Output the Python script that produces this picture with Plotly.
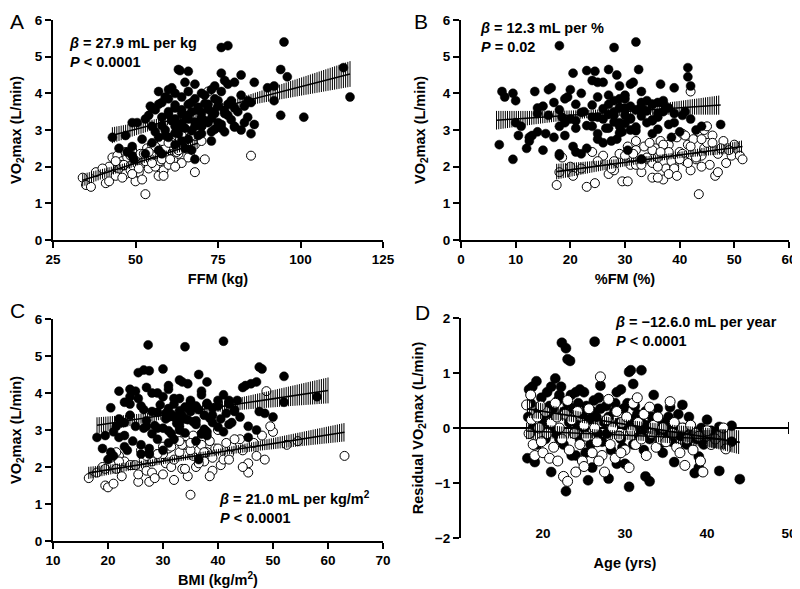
import numpy as np
import plotly.graph_objects as go

# ---------------- DATA ----------------
# Men (filled circles): VO2max (L/min), fat-free mass (kg), % fat mass, BMI (kg/m2)
men_vo2 = [5.40, 5.30, 5.25, 4.70, 4.65, 4.65, 4.62, 4.60, 4.55, 4.45, 4.50, 4.35, 4.30, 4.30, 4.25, 4.20, 4.15, 4.15, 4.10, 4.10,
           4.05, 4.05, 4.00, 4.00, 3.90, 3.90, 3.85, 3.80, 3.80, 3.75, 3.75, 3.70, 3.70, 3.65, 3.60, 3.60, 3.55, 3.50, 3.50, 3.45,
           3.45, 3.40, 3.40, 3.35, 3.35, 3.30, 3.30, 3.25, 3.20, 3.20, 3.20, 3.15, 3.10, 3.10, 3.05, 3.05, 3.00, 3.00, 2.95, 2.90,
           2.90, 2.85, 2.85, 2.80, 2.80, 2.80, 2.75, 2.70, 2.70, 2.65, 2.60, 2.55, 2.50, 2.50, 2.45, 2.45, 2.40, 2.35, 2.35, 2.30,
           2.20, 2.20, 3.95, 3.90, 3.85, 3.80, 3.75, 3.72, 3.70, 3.68, 3.65, 3.62, 3.60, 3.58, 3.55, 3.52, 3.50, 3.48, 3.45, 3.42,
           3.40, 3.38, 3.35, 3.32, 3.30, 3.28, 3.25, 3.22, 3.20, 3.18, 3.15, 3.12, 3.10, 3.08, 3.05, 3.02, 2.98, 2.95, 2.92, 2.90,
           3.85, 3.70, 3.55, 3.40, 3.30, 3.10, 4.05, 4.20, 4.25, 4.30, 3.95, 3.80, 3.65, 3.50, 3.35, 3.20, 3.10, 2.95, 2.85, 2.75]
men_ffm = [95, 78, 76, 113, 94, 63, 63.5, 66, 76, 96, 82, 77, 86, 80, 78, 92, 61, 90, 60, 73,
           57, 66, 70, 62, 115, 59, 68, 92, 75, 85, 58, 66, 72, 54.5, 62, 55, 69, 73, 60, 64,
           77, 94, 66, 101, 58, 70, 62, 71, 49, 50.5, 75, 86, 68, 80, 65, 76, 82, 59, 73, 85,
           63, 47, 69, 43, 60, 57, 52, 64, 73, 55, 62, 49, 45, 65, 57, 67, 47.5, 58, 53, 49,
           68, 49.5, 71, 64, 74, 79, 67, 71, 78, 62, 75, 69, 80, 72, 64, 77, 67, 70, 74, 60,
           78, 65, 70, 73, 66, 79, 61, 68, 72, 64, 76, 58, 70, 80, 63, 74, 67, 77, 62, 70,
           60, 57, 56, 54, 53, 55, 76, 74, 68, 65, 82, 84, 83, 81, 84, 83, 62, 56, 59, 66]
men_fm = [32, 18, 28, 41.5, 32.5, 27, 23, 24.5, 20.5, 41.5, 28.5, 24, 25, 31.5, 36.5, 42, 16.5, 39, 20, 16,
          7.5, 13.5, 9.5, 22, 19.5, 8, 29, 10, 34, 36, 17, 35, 27, 15, 30, 14, 33, 37, 22.5, 14,
          39, 40.5, 28, 18.5, 25, 42, 31, 35, 10, 19, 29, 47.5, 11, 44, 21, 26.5, 43, 31, 29.5, 15.5,
          25, 10.5, 13, 12.5, 38.5, 17, 28.5, 12.5, 27.5, 26, 7, 20.5, 12, 23, 15, 30.5, 21, 18, 22, 18,
          33, 9.5, 27, 25, 30, 28, 33, 37, 35, 24, 31, 29, 38, 26, 32, 34, 28, 22, 36, 27,
          30, 33, 24, 31, 26, 35, 21, 28, 34, 30, 38, 23, 29, 32, 27, 36, 32, 40, 29, 35,
          19, 21, 18, 16, 20, 24, 33, 29, 31, 26, 30, 37, 33, 41, 36, 39, 18, 14, 19, 25]
men_bmi = [41, 27.3, 34, 47.5, 48, 30, 26.5, 27.5, 25.5, 52, 36.5, 33, 38, 47, 46, 45, 27, 44.5, 24, 31,
           22, 25, 28, 29, 58, 24, 32, 42, 40, 52, 23, 38, 32, 26, 35, 20.5, 43, 47.5, 28, 30.5,
           48.5, 39, 33, 50, 31, 40.5, 34, 36, 22.5, 23, 33, 42, 21.5, 45.5, 29, 30, 47, 33, 41, 37,
           28, 19.5, 38, 18, 45.5, 22, 32, 24.5, 36, 31, 26, 23, 19, 27.5, 23.5, 30, 20.5, 27.5, 26, 21,
           36.5, 20, 37, 30, 33, 35, 35, 38, 42, 29.5, 36, 34, 39, 31, 36.5, 33, 35, 29, 41.5, 31.5,
           37.5, 33.5, 32, 38.5, 30.5, 34.5, 27, 35.5, 39, 32.5, 36, 28.5, 33, 40, 26.5, 37.5, 31, 38, 34, 31.5,
           25.5, 24, 26.5, 24, 22, 27, 37, 31, 34.5, 33.5, 41, 43.5, 40, 43, 44, 42.5, 25, 21, 23, 29]
men_age = [18.3, 18.7, 19.2, 18.5, 18.2, 18.4, 18.1, 18.8, 19.0, 19.5, 19.8, 20.0, 20.3, 20.5, 20.8, 21.0, 21.0, 21.3, 21.5, 21.6,
           21.8, 22.0, 22.2, 22.3, 22.5, 22.6, 22.8, 22.8, 23.0, 23.3, 23.0, 23.2, 23.5, 23.7, 24.0, 24.0, 24.2, 24.5, 24.5, 24.8,
           25.0, 25.0, 25.3, 25.5, 25.6, 25.8, 26.0, 26.2, 26.3, 26.5, 26.7, 27.0, 27.0, 27.2, 27.5, 27.7, 28.0, 28.0, 28.3, 28.5,
           28.7, 29.0, 29.0, 29.3, 29.5, 29.5, 29.8, 30.0, 30.0, 30.3, 30.5, 30.5, 30.7, 30.8, 31.0, 31.0, 31.3, 31.5, 31.8, 32.0,
           32.0, 32.3, 32.5, 32.5, 32.8, 33.0, 33.0, 33.3, 33.5, 33.7, 34.0, 34.2, 34.5, 34.8, 35.0, 35.3, 35.5, 35.7, 36.0, 36.2,
           36.5, 36.8, 37.0, 37.2, 37.5, 38.0, 38.3, 38.5, 38.8, 39.0, 39.0, 39.3, 39.6, 40.0, 40.5, 41.5, 41.5, 43.0, 43.0, 44.0,
           19.3, 20.2, 20.7, 21.2, 22.0, 23.4, 24.3, 25.2, 26.0, 26.8, 27.8, 28.8, 29.7, 30.2, 31.2, 32.2, 33.8, 34.6, 35.5, 37.8]
men_resid = [0.70, 0.75, 0.85, 0.45, 0.20, -0.10, -0.55, 0.00, -0.62, 0.30, 0.55, 0.10, -0.20, 0.65, 0.40, 0.75, -0.80, 0.20, 0.90, -0.10,
             0.50, 0.60, 0.75, 1.55, -0.30, 0.30, 1.45, -1.15, 1.25, 1.22, 0.45, 0.10, -0.50, 0.35, 0.65, -0.50, 0.05, 0.70, -0.20, 0.25,
             0.65, 0.00, 0.40, -0.95, 0.15, -0.30, -0.72, 0.50, 1.57, 0.20, -0.10, 0.77, 0.35, -0.25, 0.10, 0.40, -0.92, 0.20, -0.40, 0.00,
             0.30, 0.65, -0.65, 0.10, 0.70, -0.20, 0.35, -0.65, 0.05, 0.45, 1.02, -1.07, 1.05, 0.15, 0.80, -0.30, 0.00, 0.25, -0.15, 1.05,
             0.10, -0.40, -0.88, 0.30, 0.05, -0.97, -0.20, 0.20, 0.60, -0.05, 0.35, -0.30, 0.10, 0.00, -0.10, 0.20, 0.38, -0.25, -0.62, 0.05,
             0.25, -0.15, 0.42, 0.00, -0.30, 0.05, -0.10, -0.82, -0.20, -0.72, -0.52, 0.00, -0.30, 0.15, -0.05, 0.02, -0.78, 0.04, -0.25, -0.93,
             -0.30, 0.25, -0.05, 0.35, -0.20, 0.60, 0.45, -0.45, 0.30, 0.55, -0.10, 0.45, -0.35, 0.20, 0.40, -0.10, 0.10, -0.45, 0.10, 0.20]

# Women (open circles)
wom_vo2 = [1.70, 1.50, 1.45, 1.85, 1.55, 1.60, 2.00, 2.25, 1.75, 2.30, 1.95, 2.15, 1.80, 2.40, 2.05, 1.90, 2.45, 1.60, 2.20, 1.85,
           2.35, 1.65, 2.10, 1.25, 2.50, 1.95, 2.25, 2.60, 2.00, 2.40, 1.75, 2.15, 2.55, 1.90, 2.30, 2.70, 2.05, 2.45, 2.80, 2.20,
           2.60, 2.35, 2.75, 2.10, 2.50, 2.90, 2.65, 2.30, 2.85, 2.60, 1.85, 2.95, 2.70, 2.30, 2.20, 2.00, 2.25, 2.15, 2.05, 2.35,
           2.45, 2.55, 2.40, 2.20, 2.30, 1.95, 2.10, 2.60, 2.75, 2.65, 2.50, 2.45, 2.05, 1.80, 1.70, 2.25, 2.85, 3.00, 3.10, 4.05,
           2.15, 2.35, 1.95, 2.55, 2.70, 2.40, 2.20, 2.00, 1.75, 2.65]
wom_ffm = [34, 35, 36.5, 38, 41, 42, 42, 43, 44, 44.5, 45, 46, 47, 47, 48, 48.5, 49, 50, 50, 51,
           51.5, 52, 52, 53, 53.5, 54, 54.5, 55, 56, 56.5, 57, 57.5, 58, 58.5, 59, 59.5, 60, 60.5, 61, 61.5,
           62, 63, 63.5, 64, 64.5, 65, 66, 66.5, 67, 68, 68, 69, 70, 85, 71, 49.5, 47.5, 53, 45.5, 55.5,
           57, 60, 62.5, 58, 48.5, 51, 55, 57.5, 65.5, 61, 59, 63, 46.5, 49, 46, 66, 64, 68.5, 70, 72,
           44, 52.5, 40, 56, 58, 54, 60.5, 62, 58.5, 60]
wom_fm = [35, 17.5, 23, 18, 24.5, 29.5, 20, 18.5, 20.5, 26, 22, 25, 27, 24, 31, 28, 32, 30.5, 34, 33,
          29, 37, 35, 43.5, 35.5, 37.5, 36, 38, 39, 40, 46.5, 41, 33.5, 42, 44, 36.5, 45.5, 37, 39.5, 43,
          41.5, 47, 42.5, 48.5, 44.5, 40.5, 45, 49.5, 46, 50, 47, 43.5, 48, 51, 51.5, 36, 34, 38.5, 32, 40.5,
          35, 42, 38, 33, 30, 39, 41.5, 37, 44, 46, 47.5, 49, 33, 38, 36, 43, 41, 44.5, 45, 42,
          28, 31.5, 27.5, 30.5, 32, 36.5, 40, 44, 39.5, 34.5]
wom_bmi = [16.5, 19.5, 20, 18, 21, 25.5, 19, 20.5, 22.5, 22, 19.5, 23, 25.5, 21.5, 24.5, 27, 26, 27.5, 26.5, 28,
           29, 32, 30.5, 35, 31, 33.5, 28.5, 34, 36, 33, 34.5, 37.5, 30, 39, 35.5, 38.5, 40.5, 36.5, 32.5, 41,
           37, 42, 44, 45.5, 39.5, 37, 46.5, 47, 48, 52.5, 45.5, 50, 54.5, 63, 48.5, 31.5, 29.5, 28, 24, 30,
           35, 42.5, 38, 32, 27, 34, 36.5, 33.5, 43, 41.5, 40, 44.5, 25, 30, 28.5, 39, 35.5, 40, 49.5, 48.8,
           22, 29, 21.5, 31.5, 33, 37.5, 42, 44.5, 38.5, 35]
wom_age = [18.0, 18.3, 18.5, 18.6, 18.8, 19.0, 19.3, 19.5, 19.8, 20.0, 20.3, 20.5, 20.8, 21.0, 21.3, 21.5, 21.8, 22.0, 22.3, 22.5,
           22.7, 23.0, 23.2, 23.5, 23.8, 24.0, 24.2, 24.5, 24.8, 25.0, 25.3, 25.6, 26.0, 26.3, 26.6, 27.0, 27.2, 27.5, 27.8, 28.0,
           28.2, 28.5, 28.8, 29.0, 29.3, 29.6, 30.0, 30.2, 30.5, 30.8, 31.0, 31.3, 31.6, 32.0, 32.3, 32.6, 33.0, 33.2, 33.5, 33.8,
           34.0, 34.3, 34.6, 35.0, 35.5, 35.8, 36.0, 36.3, 36.7, 37.0, 37.3, 37.6, 38.0, 38.3, 38.6, 39.0, 39.5, 39.2, 40.0, 40.5,
           41.0, 42.3, 42.0, 19.7, 21.7, 23.0, 25.0, 26.8, 29.5, 31.5]
wom_resid = [0.42, -0.10, 0.60, 0.15, -0.30, -0.50, 0.20, 0.00, -0.25, -0.45, 0.30, -0.10, -0.55, 0.10, -0.35, 0.45, -0.60, 0.00, -0.20, -0.88,
             0.25, -0.97, -0.40, 0.15, -0.10, -0.80, 0.30, -0.30, -0.60, 0.05, -0.15, 0.35, -0.45, 0.00, -0.25, 0.93, -0.50, -0.80, 0.15, 0.52,
             -0.30, 0.00, -0.55, 0.30, -0.15, 0.10, -0.40, 0.20, -0.72, -0.05, 0.45, -0.30, 0.10, -0.20, 0.25, -0.50, 0.38, -0.10, 0.05, -0.35,
             0.20, -0.20, 0.00, -0.25, 0.48, -0.10, 0.10, -0.35, -0.45, 0.00, -0.68, -0.20, 0.05, -0.40, -0.10, -0.15, -0.80, -0.60, -0.05, -0.30,
             -0.20, -0.38, 0.00, 0.40, 0.20, 0.50, -0.70, -0.60, -0.45, 0.55]

# x-extent over which each fitted line is drawn (men, women) per panel
fit_extent_men = [[43, 115], [6.5, 47.5], [18, 60], [18.1, 44]]
fit_extent_wom = [[34, 69], [17.5, 51.5], [16.5, 63], [18, 42.3]]

panel_letters = ["A", "B", "C", "D"]
x_titles = ["FFM (kg)", "%FM (%)", "BMI (kg/m<sup>2</sup>)", "Age (yrs)"]
y_titles = ["VO<sub>2</sub>max (L/min)", "VO<sub>2</sub>max (L/min)", "VO<sub>2</sub>max (L/min)",
            "Residual VO<sub>2</sub>max (L/min)"]
x_ranges = [[25, 125], [0, 60], [10, 70], [10, 50]]
x_dticks = [25, 10, 10, 10]
y_ranges = [[0, 6], [0, 6], [0, 6], [-2, 2]]
d_xticks = [20, 30, 40, 50]
stat_beta = ["27.9 mL per kg", "12.3 mL per %", "21.0 mL per kg/m<sup>2</sup>", "\u221212.6.0 mL per year"]
stat_p = ["&lt; 0.0001", "= 0.02", "&lt; 0.0001", "&lt; 0.0001"]

# ---------------- LAYOUT GEOMETRY ----------------
W, H = 800, 589
OFF = 8  # page offset of the plot div (default body margin)


def fx(px):
    return (px - OFF) / W


def fy(py):
    return 1 - (py - OFF) / H


dom_x = [[fx(53), fx(383)], [fx(461), fx(789)], [fx(53), fx(383)], [fx(461), fx(789)]]
dom_y = [[fy(240), fy(20)], [fy(240), fy(20)], [fy(541), fy(319)], [fy(538), fy(318)]]
marker_sizes = [9, 9, 9, 10]

FONT = "Liberation Sans, Arial, sans-serif"
fig = go.Figure()


def fit_band(x, y, ext, span, pxw, xref, yref):
    x = np.asarray(x, float)
    y = np.asarray(y, float)
    b, a = np.polyfit(x, y, 1)
    n = len(x)
    xm = x.mean()
    sxx = ((x - xm) ** 2).sum()
    s = np.sqrt(((y - (a + b * x)) ** 2).sum() / (n - 2))
    step = span * 2.2 / pxw
    xs = np.arange(ext[0], ext[1] + 1e-9, step)
    yc = a + b * xs
    h = 1.97 * s * np.sqrt(1.0 / n + (xs - xm) ** 2 / sxx)
    hx, hy = [], []
    for xi, lo, hi in zip(xs, yc - h, yc + h):
        hx += [xi, xi, None]
        hy += [lo, hi, None]
    fig.add_trace(go.Scatter(x=hx, y=hy, mode="lines", line=dict(color="black", width=1),
                             xaxis=xref, yaxis=yref, hoverinfo="skip", showlegend=False))
    fig.add_trace(go.Scatter(x=[ext[0], ext[1]], y=[a + b * ext[0], a + b * ext[1]], mode="lines",
                             line=dict(color="black", width=1.6), xaxis=xref, yaxis=yref,
                             hoverinfo="skip", showlegend=False))


panels = [
    (men_ffm, men_vo2, wom_ffm, wom_vo2),
    (men_fm, men_vo2, wom_fm, wom_vo2),
    (men_bmi, men_vo2, wom_bmi, wom_vo2),
    (men_age, men_resid, wom_age, wom_resid),
]

for i, (mx, my, wx, wy) in enumerate(panels):
    xr = "x" if i == 0 else f"x{i + 1}"
    yr = "y" if i == 0 else f"y{i + 1}"
    ms = marker_sizes[i]
    open_trace = go.Scatter(x=wx, y=wy, mode="markers", xaxis=xr, yaxis=yr, showlegend=False,
                            marker=dict(size=ms, color="white", line=dict(color="black", width=1)))
    filled_trace = go.Scatter(x=mx, y=my, mode="markers", xaxis=xr, yaxis=yr, showlegend=False,
                              marker=dict(size=ms, color="black", line=dict(color="black", width=0.5)))
    if i < 3:
        fig.add_trace(open_trace)
        fig.add_trace(filled_trace)
    else:
        fig.add_trace(filled_trace)
        fig.add_trace(open_trace)
    span = x_ranges[i][1] - x_ranges[i][0]
    pxw = (dom_x[i][1] - dom_x[i][0]) * W
    fit_band(mx, my, fit_extent_men[i], span, pxw, xr, yr)
    fit_band(wx, wy, fit_extent_wom[i], span, pxw, xr, yr)

tickfont = dict(family=FONT, size=13.5, color="black", weight="bold")
titlefont = dict(family=FONT, size=14.5, color="black", weight="bold")
layout = dict(width=W, height=H, margin=dict(l=0, r=0, t=0, b=0, autoexpand=False),
              paper_bgcolor="white", plot_bgcolor="white", showlegend=False)
y_standoff = [18, 14, 18, 8]
for i in range(4):
    xk = "xaxis" if i == 0 else f"xaxis{i + 1}"
    yk = "yaxis" if i == 0 else f"yaxis{i + 1}"
    ya = "y" if i == 0 else f"y{i + 1}"
    xa = "x" if i == 0 else f"x{i + 1}"
    is_d = (i == 3)
    xdef = dict(domain=dom_x[i], range=x_ranges[i], dtick=x_dticks[i], tick0=x_ranges[i][0],
                showline=not is_d, linecolor="black", linewidth=2,
                ticks="outside" if not is_d else "", ticklen=6, tickwidth=2, tickcolor="black",
                showgrid=False, zeroline=False, tickfont=tickfont, automargin=False,
                title=dict(text=x_titles[i], font=titlefont, standoff=8 if not is_d else 18))
    if is_d:
        xdef.update(anchor="free", position=fy(523), tickvals=d_xticks)
    else:
        xdef.update(anchor=ya)
    layout[xk] = xdef
    layout[yk] = dict(domain=dom_y[i], anchor=xa, range=y_ranges[i], dtick=1,
                      showline=True, linecolor="black", linewidth=2,
                      ticks="outside", ticklen=6, tickwidth=2, tickcolor="black",
                      showgrid=False, zeroline=is_d, zerolinecolor="black", zerolinewidth=2,
                      tickfont=tickfont, automargin=False,
                      title=dict(text=y_titles[i], font=titlefont, standoff=y_standoff[i]))
fig.update_layout(**layout)

# right-end tick on the zero line of panel D
fig.add_shape(type="line", xref="x4", yref="y4", x0=x_ranges[3][1], x1=x_ranges[3][1], y0=-0.11, y1=0.11,
              line=dict(color="black", width=2))

# panel letters (left edge, top edge, page pixels)
letter_pos = [(9, 9), (413, 9), (9, 298), (414, 300)]
for L, (px, py) in zip(panel_letters, letter_pos):
    fig.add_annotation(x=fx(px), y=fy(py), xref="paper", yref="paper", text=L, showarrow=False,
                       font=dict(family=FONT, size=21, color="black"), xanchor="left", yanchor="top",
                       borderpad=0)

# statistics text (left edge, centre of first line, in page pixels)
stat_pos = [(67, 43), (478, 28), (217, 497), (613, 322)]
for i, (px, py) in enumerate(stat_pos):
    txt = f"<b><i>\u03b2</i> = {stat_beta[i]}</b><br><b><i>P</i> {stat_p[i]}</b>"
    fig.add_annotation(x=fx(px), y=fy(py - 10), xref="paper", yref="paper", text=txt, showarrow=False,
                       align="left", xanchor="left", yanchor="top",
                       font=dict(family=FONT, size=14.5, color="black"))

fig.write_html("out.html")
